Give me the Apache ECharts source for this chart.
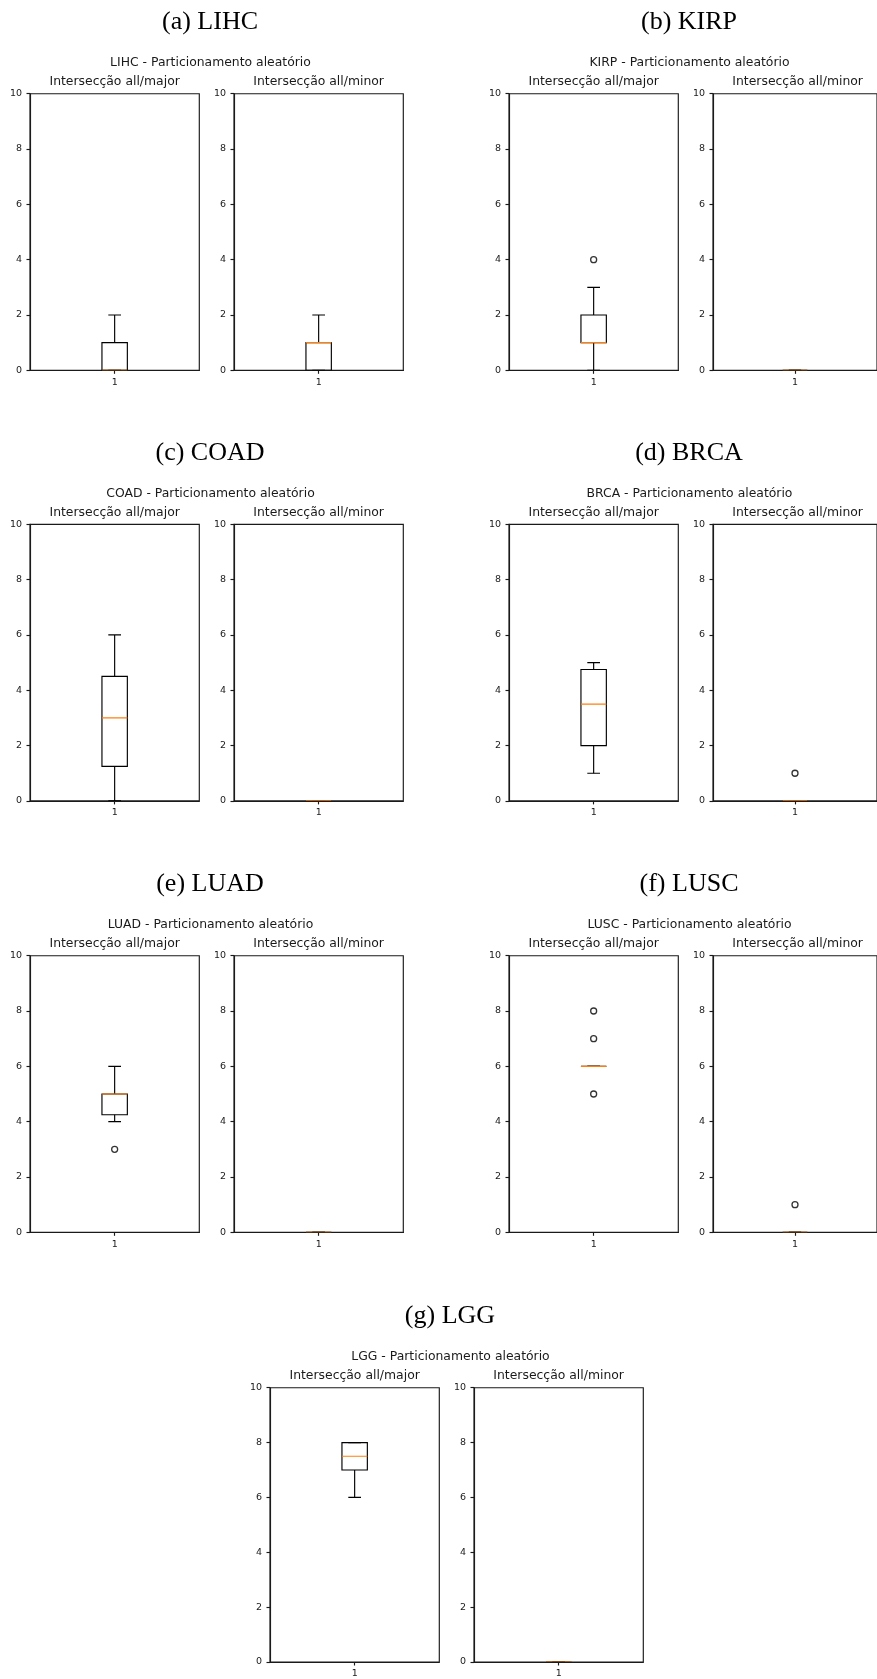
<!DOCTYPE html>
<html>
<head>
<meta charset="utf-8">
<script src="https://cdn.jsdelivr.net/npm/echarts@6/dist/echarts.min.js"></script>
<style>
html,body{margin:0;padding:0;background:#fff;}
#chart{width:877px;height:1679px;}
</style>
</head>
<body>
<div id="chart"></div>
<script>
// ---------- data ----------
const captions = ['(a) LIHC', '(b) KIRP', '(c) COAD', '(d) BRCA', '(e) LUAD', '(f) LUSC', '(g) LGG'];
const datasets = ['LIHC', 'KIRP', 'COAD', 'BRCA', 'LUAD', 'LUSC', 'LGG'];
const suptitleSuffix = ' - Particionamento aleatório';
const subtitles = ['Intersecção all/major', 'Intersecção all/minor'];
const xCategories = ['1'];
const yTicks = [0, 2, 4, 6, 8, 10];
// [lower whisker, Q1, median, Q3, upper whisker]
const majorBoxes = [
  [0, 0, 0, 1, 2],
  [0, 1, 1, 2, 3],
  [0, 1.25, 3, 4.5, 6],
  [1, 2, 3.5, 4.75, 5],
  [4, 4.25, 5, 5, 6],
  [6, 6, 6, 6, 6],
  [6, 7, 7.5, 8, 8]
];
const minorBoxes = [
  [0, 0, 1, 1, 2],
  [0, 0, 0, 0, 0],
  [0, 0, 0, 0, 0],
  [0, 0, 0, 0, 0],
  [0, 0, 0, 0, 0],
  [0, 0, 0, 0, 0],
  [0, 0, 0, 0, 0]
];
const majorOutliers = [[], [4], [], [], [3], [5, 7, 8], []];
const minorOutliers = [[], [], [], [1], [], [1], []];

// ---------- layout ----------
const panelPos = [
  [0, 93.7], [479, 93.7],
  [0, 524.3], [479, 524.3],
  [0, 955.7], [479, 955.7],
  [240, 1387.7]
];
const plotLeft = [30, 234];
const PW = 169.3, PH = 276.6;
const INK = '#1a1a1a';
const SANS = '"DejaVu Sans", sans-serif';
const LW = 1.15;

function renderBox(params, api) {
  const x = api.value(0);
  const lo = api.coord([x, api.value(1)]);
  const q1 = api.coord([x, api.value(2)]);
  const md = api.coord([x, api.value(3)]);
  const q3 = api.coord([x, api.value(4)]);
  const hi = api.coord([x, api.value(5)]);
  const band = api.size([1, 0])[0];
  const bw = band * 0.15;
  const cx = lo[0];
  const ln = (x1, y1, x2, y2, c) => ({
    type: 'line',
    shape: {x1, y1, x2, y2},
    style: {stroke: c || '#000', lineWidth: LW}
  });
  return {
    type: 'group',
    children: [
      ln(cx, q1[1], cx, lo[1]),
      ln(cx, q3[1], cx, hi[1]),
      ln(cx - bw / 4, lo[1], cx + bw / 4, lo[1]),
      ln(cx - bw / 4, hi[1], cx + bw / 4, hi[1]),
      {type: 'rect', shape: {x: cx - bw / 2, y: q3[1], width: bw, height: q1[1] - q3[1]},
       style: {fill: 'none', stroke: '#000', lineWidth: LW}},
      ln(cx - bw / 2, md[1], cx + bw / 2, md[1], '#ff7f0e')
    ]
  };
}

const grids = [], xAxes = [], yAxes = [], series = [], graphics = [];

panelPos.forEach((p, i) => {
  const ox = p[0], top = p[1];
  graphics.push({
    type: 'text', x: ox + 210, y: top - 71.5,
    style: {text: captions[i], font: '26px "Liberation Serif", "Times New Roman", serif',
            fill: '#000', align: 'center', verticalAlign: 'middle', textAlign: 'center', textVerticalAlign: 'middle'}
  });
  graphics.push({
    type: 'text', x: ox + 210.5, y: top - 30.7,
    style: {text: datasets[i] + suptitleSuffix, font: '12.4px ' + SANS,
            fill: INK, align: 'center', verticalAlign: 'middle', textAlign: 'center', textVerticalAlign: 'middle'}
  });
  [0, 1].forEach(side => {
    const gi = grids.length;
    const left = ox + plotLeft[side];
    grids.push({left: left, top: top, width: PW, height: PH, show: true,
                borderColor: INK, borderWidth: LW, backgroundColor: '#fff', containLabel: false});
    graphics.push({
      type: 'text', x: left + PW / 2, y: top - 11.5,
      style: {text: subtitles[side], font: '12.4px ' + SANS,
              fill: INK, align: 'center', verticalAlign: 'middle', textAlign: 'center', textVerticalAlign: 'middle'}
    });
    xAxes.push({
      type: 'category', gridIndex: gi, data: xCategories, boundaryGap: true,
      axisLine: {show: true, lineStyle: {color: INK, width: LW}},
      axisTick: {show: true, alignWithLabel: true, length: 3.5, lineStyle: {color: INK, width: LW}},
      axisLabel: {show: true, margin: 7, color: INK, fontSize: 9.5, fontFamily: SANS},
      splitLine: {show: false}
    });
    yAxes.push({
      type: 'value', gridIndex: gi, min: yTicks[0], max: yTicks[yTicks.length - 1], interval: yTicks[1] - yTicks[0],
      axisLine: {show: true, lineStyle: {color: INK, width: LW}},
      axisTick: {show: true, length: 3.5, lineStyle: {color: INK, width: LW}},
      axisLabel: {show: true, margin: 8, color: INK, fontSize: 9.5, fontFamily: SANS},
      splitLine: {show: false}
    });
    const box = side ? minorBoxes[i] : majorBoxes[i];
    series.push({
      type: 'custom', xAxisIndex: gi, yAxisIndex: gi, renderItem: renderBox,
      data: [[0].concat(box)], encode: {x: 0, y: [1, 2, 3, 4, 5]}, clip: true, silent: true, z: 3
    });
    const outl = side ? minorOutliers[i] : majorOutliers[i];
    if (outl.length) {
      series.push({
        type: 'scatter', xAxisIndex: gi, yAxisIndex: gi,
        data: outl.map(v => [xCategories[0], v]),
        symbol: 'circle', symbolSize: 6, silent: true, z: 4,
        itemStyle: {color: 'rgba(0,0,0,0)', borderColor: '#000', borderWidth: 1.3}
      });
    }
  });
});

const chart = echarts.init(document.getElementById('chart'), null, {renderer: 'canvas'});
chart.setOption({
  animation: false,
  backgroundColor: '#fff',
  grid: grids,
  xAxis: xAxes,
  yAxis: yAxes,
  series: series,
  graphic: graphics
});
</script>
</body>
</html>
